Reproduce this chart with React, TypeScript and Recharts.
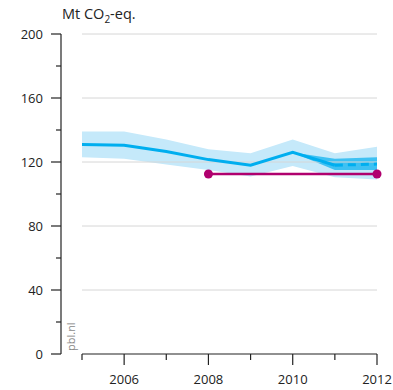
import React from "react";
import {
  Area,
  ComposedChart,
  Line,
  ReferenceLine,
  XAxis,
  YAxis,
} from "recharts";

const years = [2005, 2006, 2007, 2008, 2009, 2010, 2011, 2012];
const emissions = [131, 130.5, 126.5, 121.5, 118, 126, 118, null];
const projection = [null, null, null, null, null, null, 118, 118.7];
const bandLow = [123, 122, 118.5, 115, 111, 117.5, 110.5, 109];
const bandHigh = [139, 139, 134, 128, 125.5, 134, 125.5, 129.5];
const projLow = [null, null, null, null, null, 126, 115, 115];
const projHigh = [null, null, null, null, null, 126, 122, 123];
const target = [null, null, null, 112.5, 112.5, 112.5, 112.5, 112.5];

const yTicks = [0, 20, 40, 60, 80, 100, 120, 140, 160, 180, 200];
const gridValues = [40, 80, 120, 160, 200];

const data = years.map((year, i) => ({
  year,
  emissions: emissions[i],
  projection: projection[i],
  band: [bandLow[i], bandHigh[i]],
  projBand:
    projLow[i] == null ? null : [projLow[i] as number, projHigh[i] as number],
  target: target[i],
}));

const FONT = "'Open Sans', sans-serif";
const INK = "#222";

const firstTarget = years[target.findIndex((v) => v != null)];
const lastTarget = years[target.length - 1 - [...target].reverse().findIndex((v) => v != null)];

function XTick({ x, y, payload }: any) {
  const major = payload.value % 2 === 0;
  return (
    <g>
      <line x1={x} x2={x} y1={y} y2={y + (major ? 11 : 6)} stroke={INK} strokeWidth={1.2} />
      {major && (
        <text
          x={x}
          y={y + 30}
          textAnchor="middle"
          fontSize={13}
          fontFamily={FONT}
          fill={INK}
        >
          {payload.value}
        </text>
      )}
    </g>
  );
}

function YTick({ x, y, payload }: any) {
  const major = payload.value % 40 === 0;
  return (
    <g>
      <line x1={x - (major ? 10 : 5)} x2={x} y1={y} y2={y} stroke={INK} strokeWidth={1.2} />
      {major && (
        <text
          x={x - 18}
          y={y + 4.5}
          textAnchor="end"
          fontSize={13}
          fontFamily={FONT}
          fill={INK}
        >
          {payload.value}
        </text>
      )}
    </g>
  );
}

function TargetDot({ cx, cy, payload }: any) {
  if (payload.year !== firstTarget && payload.year !== lastTarget) return <g />;
  return <circle cx={cx} cy={cy} r={4.5} fill="#B0006E" />;
}

export default function App() {
  return (
    <div
      style={{
        position: "absolute",
        left: 0,
        top: 0,
        width: 393,
        height: 390,
        background: "#fff",
        fontFamily: FONT,
      }}
    >
      {/* unit label */}
      <div
        style={{
          position: "absolute",
          left: 62,
          top: 4,
          fontSize: 14.5,
          color: INK,
          whiteSpace: "nowrap",
        }}
      >
        Mt CO<sub style={{ fontSize: 10, verticalAlign: "-4px" }}>2</sub>-eq.
      </div>

      {/* source watermark */}
      <div
        style={{
          position: "absolute",
          left: 64,
          top: 351,
          fontSize: 11,
          color: "#8a8a8a",
          transform: "rotate(-90deg)",
          transformOrigin: "0 0",
          whiteSpace: "nowrap",
          lineHeight: "14px",
        }}
      >
        pbl.nl
      </div>

      <ComposedChart
        width={393}
        height={390}
        data={data}
        margin={{ top: 34, right: 16, bottom: 0, left: 0 }}
      >
        <XAxis
          dataKey="year"
          type="number"
          domain={[2005, 2012]}
          ticks={years}
          padding={{ left: 21, right: 0 }}
          axisLine={false}
          tickLine={false}
          tickSize={0}
          tickMargin={0}
          height={36}
          tick={<XTick />}
          interval={0}
        />
        <YAxis
          type="number"
          domain={[0, 200]}
          ticks={yTicks}
          width={61}
          axisLine={{ stroke: INK, strokeWidth: 1.2 }}
          tickLine={false}
          tickSize={0}
          tickMargin={0}
          tick={<YTick />}
          interval={0}
        />

        {gridValues.map((v) => (
          <ReferenceLine
            key={v}
            segment={[
              { x: 2005, y: v },
              { x: 2012, y: v },
            ]}
            stroke="#d6d6d6"
            strokeWidth={1}
          />
        ))}
        <ReferenceLine
          segment={[
            { x: 2005, y: 0 },
            { x: 2012, y: 0 },
          ]}
          stroke={INK}
          strokeWidth={1.2}
        />

        <Area
          dataKey="band"
          type="linear"
          stroke="none"
          fill="#C5E9FA"
          fillOpacity={1}
          isAnimationActive={false}
        />
        <Area
          dataKey="projBand"
          type="linear"
          stroke="none"
          fill="#3EC1F3"
          fillOpacity={1}
          connectNulls={false}
          isAnimationActive={false}
        />
        <Line
          dataKey="emissions"
          type="linear"
          stroke="#00AEEF"
          strokeWidth={3}
          dot={false}
          isAnimationActive={false}
        />
        <Line
          dataKey="projection"
          type="linear"
          stroke="#00AEEF"
          strokeWidth={3}
          strokeDasharray="8 5"
          dot={false}
          isAnimationActive={false}
        />
        <Line
          dataKey="target"
          type="linear"
          stroke="#B0006E"
          strokeWidth={2.5}
          dot={<TargetDot />}
          activeDot={false}
          isAnimationActive={false}
        />
      </ComposedChart>
    </div>
  );
}
